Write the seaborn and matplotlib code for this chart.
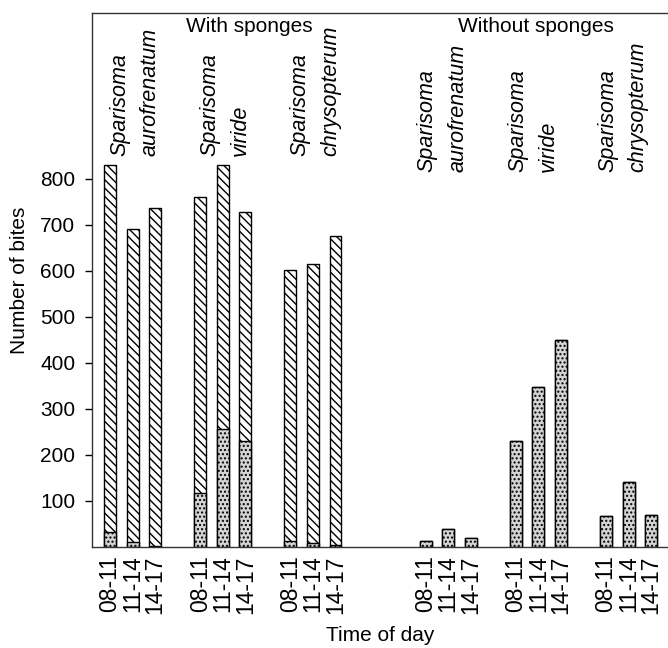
import numpy as np
import pandas as pd
import matplotlib
matplotlib.use("Agg")
import matplotlib.pyplot as plt
import seaborn as sns

# values (number of bites)
panels = ["With sponges", "Without sponges"]
species = ["aurofrenatum", "viride", "chrysopterum"]
times = ["08-11", "11-14", "14-17"]

# with sponges: total bites and the non-sponge (dotted) part
with_total = [830, 691, 737, 761, 830, 728, 602, 615, 676]
with_other = [33, 11, 3, 117, 257, 230, 13, 8, 4]
# without sponges: all bites are non-sponge
without_total = [13, 39, 20, 230, 348, 450, 67, 141, 70]

rows = []
for p, (tot, oth) in enumerate([(with_total, with_other), (without_total, without_total)]):
    for g, sp in enumerate(species):
        for t, tm in enumerate(times):
            i = g * 3 + t
            pos = p * 14 + g * 4 + t
            rows.append({"panel": panels[p], "species": sp, "time": tm,
                         "pos": pos, "total": tot[i], "other": oth[i]})
df = pd.DataFrame(rows)

sns.set_style("ticks")
plt.rcParams["font.family"] = ["Liberation Sans", "DejaVu Sans"]
plt.rcParams["hatch.linewidth"] = 1.0
for k in ["text.color", "axes.labelcolor", "xtick.color", "ytick.color"]:
    plt.rcParams[k] = "black"

fig = plt.figure(figsize=(6.68, 6.48), dpi=100)
ax = fig.add_axes([92 / 668, 101 / 648, 1 - 92 / 668, 534 / 648])

sns.barplot(data=df, x="pos", y="total", native_scale=True, width=0.53,
            color="white", saturation=1, edgecolor="black", linewidth=1,
            hatch="\\\\\\\\", errorbar=None, ax=ax)
sns.barplot(data=df, x="pos", y="other", native_scale=True, width=0.53,
            color="#d4d4d4", saturation=1, edgecolor="black", linewidth=1,
            hatch="....", errorbar=None, ax=ax)

ax.set_xlim(-0.8, 24.75)
ax.set_ylim(0, 1160)
ax.set_yticks(range(100, 900, 100))
ax.set_xticks(df["pos"])
ax.set_xticklabels(df["time"], rotation=90, fontsize=16.5)
ax.tick_params(axis="x", length=0, pad=6)
ax.tick_params(axis="y", length=5, width=1, pad=7, labelsize=15)
ax.spines["right"].set_visible(False)
for s in ["left", "top", "bottom"]:
    ax.spines[s].set_linewidth(1)
    ax.spines[s].set_color("#333333")

ax.set_ylabel("Number of bites", fontsize=15, labelpad=8)
ax.set_xlabel("Time of day", fontsize=15, labelpad=9)

# panel headers and species names (genus and species as two columns)
for p, name in enumerate(panels):
    sub = df[df["panel"] == name]
    ax.text(sub["pos"].mean() + (1.2 if p == 0 else -0.1), 1130, name,
            ha="center", va="center", fontsize=15)
    for sp in species:
        mid = sub[sub["species"] == sp]["pos"].mean() + (0.1 if p == 0 else -0.25)
        ybot = 850 if p == 0 else 815
        for dx, word in [(-0.68, "Sparisoma"), (0.68, sp)]:
            ax.text(mid + dx, ybot, word, rotation=90, ha="center", va="bottom",
                    fontsize=15.5, style="italic")

fig.savefig("out.png", dpi=100)
